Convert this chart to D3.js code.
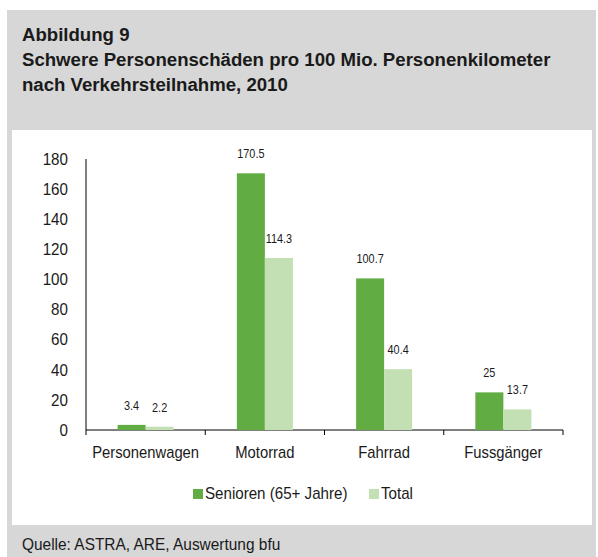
<!DOCTYPE html>
<html>
<head>
<meta charset="utf-8">
<script src="https://cdnjs.cloudflare.com/ajax/libs/d3/7.8.5/d3.min.js"></script>
<style>
  body { margin: 0; background: #fff; }
  svg text { font-family: "Liberation Sans", Arial, sans-serif; fill: #1a1a1a; }
</style>
</head>
<body>
<div id="chart"></div>
<script>
var categories = ['Personenwagen', 'Motorrad', 'Fahrrad', 'Fussgänger']
var seriesNames = ['Senioren (65+ Jahre)', 'Total']
var senioren = [3.4, 170.5, 100.7, 25]
var total = [2.2, 114.3, 40.4, 13.7]
var yTicks = [0, 20, 40, 60, 80, 100, 120, 140, 160, 180]
var titleLines = ['Abbildung 9', 'Schwere Personenschäden pro 100 Mio. Personenkilometer', 'nach Verkehrsteilnahme, 2010']
var source = 'Quelle: ASTRA, ARE, Auswertung bfu'

var W = 598, H = 557
var colors = ['#62ad43', '#c2e0b3']

// the original uses a condensed face, so squeeze text horizontally
function squeeze(sel, sx) {
  sel.each(function() {
    var t = d3.select(this)
    var tx = +t.attr('x') || 0, ty = +t.attr('y') || 0
    t.attr('transform', 'translate(' + tx + ',' + ty + ') scale(' + sx + ',1)')
      .attr('x', 0).attr('y', 0)
  })
}

var svg = d3.select('#chart').append('svg')
  .attr('width', W)
  .attr('height', H)

// gray frame + white chart panel
svg.append('rect').attr('x', 7).attr('y', 10).attr('width', 589).attr('height', 547).attr('fill', '#d7d7d7')
svg.append('rect').attr('x', 12).attr('y', 130).attr('width', 580).attr('height', 395).attr('fill', '#fff')

svg.selectAll('.title')
  .data(titleLines)
  .enter().append('text')
  .attr('class', 'title')
  .attr('x', 22)
  .attr('y', function(d, i) { return 41 + i * 25 })
  .style('font-size', '19px')
  .style('font-weight', 'bold')
  .text(function(d) { return d })
  .call(squeeze, 0.98)

svg.append('text')
  .attr('x', 22)
  .attr('y', 550)
  .style('font-size', '16px')
  .text(source)
  .call(squeeze, 0.965)

var x0 = d3.scaleBand()
  .domain(categories)
  .range([86, 563])
  .paddingInner(0.53)
  .paddingOuter(0.265)

var x1 = d3.scaleBand()
  .domain(seriesNames)
  .range([0, x0.bandwidth()])

var y = d3.scaleLinear()
  .domain([0, 180])
  .range([430, 159])

// y axis: line only, labels
var yAxis = svg.append('g')
  .attr('transform', 'translate(86,0)')
  .call(d3.axisLeft(y).tickValues(yTicks).tickSize(0).tickPadding(18))
yAxis.select('.domain').attr('stroke', '#000').attr('d', 'M0,' + y(180) + 'V' + y(0))
yAxis.selectAll('text').style('font-size', '16.5px').attr('fill', '#1a1a1a').call(squeeze, 0.92)

// x axis with ticks at category boundaries
var step = x0.step()
var bounds = d3.range(categories.length + 1).map(function(i) { return 86 + i * step })
svg.append('line')
  .attr('x1', 86).attr('x2', 563)
  .attr('y1', y(0)).attr('y2', y(0))
  .attr('stroke', '#000')
svg.selectAll('.xtick')
  .data(bounds)
  .enter().append('line')
  .attr('class', 'xtick')
  .attr('x1', function(d) { return d }).attr('x2', function(d) { return d })
  .attr('y1', y(0)).attr('y2', y(0) + 5)
  .attr('stroke', '#000')
svg.selectAll('.xlabel')
  .data(categories)
  .enter().append('text')
  .attr('class', 'xlabel')
  .attr('x', function(d) { return x0(d) + x0.bandwidth() / 2 })
  .attr('y', 458)
  .attr('text-anchor', 'middle')
  .style('font-size', '17px')
  .text(function(d) { return d })
  .call(squeeze, 0.87)

var rows = categories.map(function(c, i) {
  return { cat: c, values: [senioren[i], total[i]] }
})

var groups = svg.selectAll('.grp')
  .data(rows)
  .enter().append('g')
  .attr('class', 'grp')
  .attr('transform', function(d) { return 'translate(' + x0(d.cat) + ',0)' })

groups.selectAll('rect')
  .data(function(d) { return d.values.map(function(v, j) { return { name: seriesNames[j], v: v, j: j } }) })
  .enter().append('rect')
  .attr('x', function(d) { return x1(d.name) })
  .attr('width', x1.bandwidth())
  .attr('y', function(d) { return y(d.v) })
  .attr('height', function(d) { return y(0) - y(d.v) })
  .attr('fill', function(d) { return colors[d.j] })

groups.selectAll('.val')
  .data(function(d) { return d.values.map(function(v, j) { return { name: seriesNames[j], v: v } }) })
  .enter().append('text')
  .attr('class', 'val')
  .attr('x', function(d) { return x1(d.name) + x1.bandwidth() / 2 })
  .attr('y', function(d) { return y(d.v) - 15 })
  .attr('text-anchor', 'middle')
  .style('font-size', '12.5px')
  .text(function(d) { return d.v })
  .call(squeeze, 0.87)

// legend
var legendX = [193, 369]
var legend = svg.selectAll('.legend')
  .data(seriesNames)
  .enter().append('g')
  .attr('class', 'legend')
  .attr('transform', function(d, i) { return 'translate(' + legendX[i] + ',489)' })
legend.append('rect')
  .attr('width', 10).attr('height', 10)
  .attr('fill', function(d, i) { return colors[i] })
legend.append('text')
  .attr('x', 12).attr('y', 10)
  .style('font-size', '17px')
  .text(function(d) { return d })
  .call(squeeze, 0.89)
</script>
</body>
</html>
